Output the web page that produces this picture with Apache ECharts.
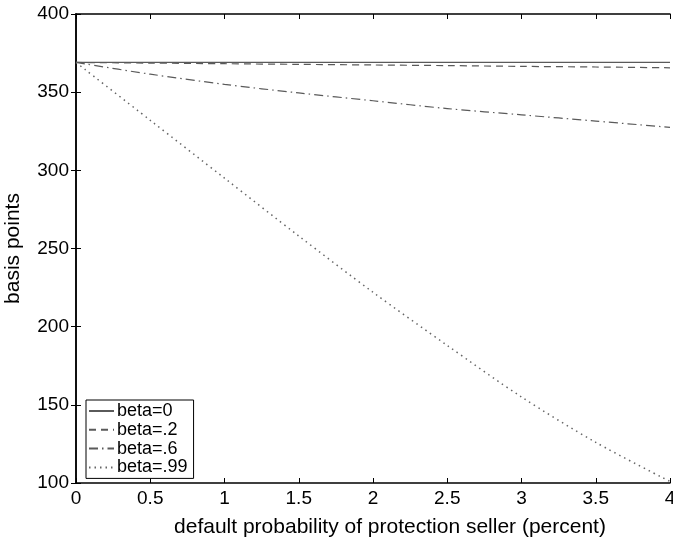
<!DOCTYPE html>
<html>
<head>
<meta charset="utf-8">
<script src="https://cdn.jsdelivr.net/npm/echarts@6/dist/echarts.min.js"></script>
<style>html,body{margin:0;padding:0;background:#fff}#c{width:673px;height:542px}</style>
</head>
<body>
<div id="c"></div>
<script>
const xValues = [0, 0.5, 1, 1.5, 2, 2.5, 3, 3.5, 4];
const beta0   = [369, 369, 369, 369, 369, 369, 369, 369, 369];
const beta02  = [369, 368.6, 368.2, 367.8, 367.4, 367, 366.5, 366.1, 365.6];
const beta06  = [369, 361.5, 355, 349.5, 344.5, 339.5, 335.5, 331.5, 327.5];
const beta099 = [369, 332, 295, 258, 222, 188, 155, 126, 101];
const seriesNames = ['beta=0', 'beta=.2', 'beta=.6', 'beta=.99'];
const xTicks = ['0','0.5','1','1.5','2','2.5','3','3.5','4'];

const font = 'Liberation Sans, Arial, Helvetica, sans-serif';
const pairs = a => xValues.map((x, i) => [x, a[i]]);
const styles = [
  {type: 'solid', color: '#5a5a5a', width: 1.2},
  {type: [7, 5], color: '#5a5a5a', width: 1.2},
  {type: [9, 4, 1.5, 4], color: '#5a5a5a', width: 1.2},
  {type: [1.5, 4], color: '#666', width: 1.5}
];
const data = [beta0, beta02, beta06, beta099];

const chart = echarts.init(document.getElementById('c'), null, {renderer: 'canvas'});
const axisCommon = {
  axisLine: {lineStyle: {color: '#000', width: 1.5}},
  axisTick: {inside: true, length: 5, lineStyle: {color: '#000', width: 1}},
  splitLine: {show: false}
};
chart.setOption({
  animation: false,
  backgroundColor: '#fff',
  grid: {left: 76, right: 3, top: 14, bottom: 59, containLabel: false, outerBoundsMode: 'none'},
  legend: {
    left: 86, top: 400,
    orient: 'vertical',
    data: seriesNames,
    itemWidth: 25, itemHeight: 14, itemGap: 0.8,
    itemStyle: {opacity: 0},
    padding: [2, 6, 2, 2],
    borderColor: '#000', borderWidth: 1, backgroundColor: '#fff',
    textStyle: {fontFamily: font, fontSize: 18, lineHeight: 18, color: '#000', padding: [0, 0, 0, -2]}
  },
  xAxis: [
    Object.assign({
      type: 'value', min: 0, max: 4, interval: 0.5,
      name: 'default probability of protection seller (percent)',
      nameLocation: 'middle', nameGap: 34,
      nameTextStyle: {fontFamily: font, fontSize: 21, color: '#000', padding: [0, 0, 0, 34]},
      axisLabel: {fontFamily: font, fontSize: 19, color: '#000', margin: 6,
        formatter: v => xTicks[Math.round(v * 2)]}
    }, axisCommon),
    Object.assign({
      type: 'value', min: 0, max: 4, interval: 0.5, position: 'top',
      axisLabel: {show: false}
    }, axisCommon)
  ],
  yAxis: [
    Object.assign({
      type: 'value', min: 100, max: 400, interval: 50,
      name: 'basis points', nameLocation: 'middle', nameGap: 52,
      nameTextStyle: {fontFamily: font, fontSize: 21, color: '#000'},
      axisLabel: {fontFamily: font, fontSize: 19, color: '#000', margin: 7}
    }, axisCommon),
    Object.assign({
      type: 'value', min: 100, max: 400, interval: 50, position: 'right',
      axisLabel: {show: false}
    }, axisCommon)
  ],
  series: seriesNames.map((n, i) => ({
    name: n, type: 'line', data: pairs(data[i]),
    symbol: 'none', smooth: 0.3,
    lineStyle: styles[i], itemStyle: {color: styles[i].color}
  }))
});
</script>
</body>
</html>
